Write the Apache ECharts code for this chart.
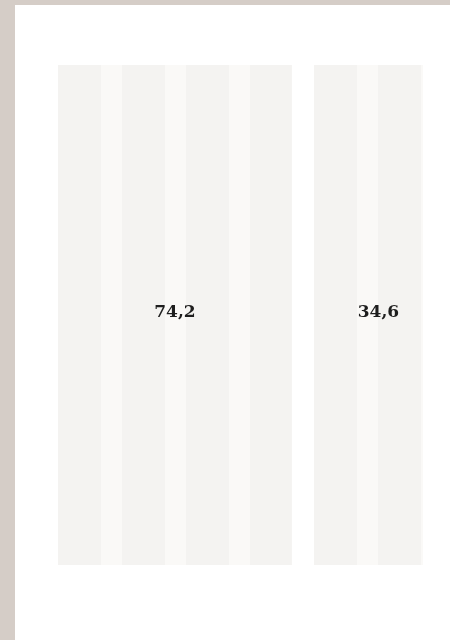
<!DOCTYPE html>
<html>
<head>
<meta charset="utf-8">
<script src="https://cdn.jsdelivr.net/npm/echarts@6/dist/echarts.min.js"></script>
<style>
  html, body { margin: 0; padding: 0; background: #ffffff; }
  #band-left { position: absolute; left: 0; top: 0; width: 15px; height: 640px; background: #d5cdc7; }
  #band-top { position: absolute; left: 0; top: 0; width: 450px; height: 5px; background: #d5cdc7; }
  #chart { position: absolute; left: 0; top: 0; width: 450px; height: 640px; }
</style>
</head>
<body>
<div id="band-left"></div>
<div id="band-top"></div>
<div id="chart"></div>
<script>
// values
const categories = ['total'];
const seriesNames = ['first', 'second'];
const seriesValues = [74.2, 34.6];

// white space between the two blocks, in axis units
const gapUnits = 7;

const baseColor = '#f4f3f1';
const stripeColor = '#faf9f7';

const chart = echarts.init(document.getElementById('chart'), null, { renderer: 'canvas' });

// vertical light stripes, 21px wide every 64px
const stripes = {
    symbol: 'rect',
    symbolSize: 1,
    symbolKeepAspect: false,
    color: stripeColor,
    dashArrayX: [[0, 37, 21, 6]],
    dashArrayY: [10, 0],
    rotation: 0
};

const labelStyle = {
    show: true,
    position: 'inside',
    offset: [0, -2],
    fontFamily: 'DejaVu Serif',
    fontWeight: 'bold',
    fontSize: 17,
    color: '#1e1e1e',
    formatter: (p) => String(p.value).replace('.', ',')
};

const option = {
    backgroundColor: 'transparent',
    animation: false,
    grid: { left: 58, right: 27, top: 65, bottom: 75 },
    xAxis: {
        type: 'value',
        min: 0,
        max: seriesValues[0] + gapUnits + seriesValues[1],
        show: false
    },
    yAxis: {
        type: 'category',
        data: categories,
        show: false
    },
    series: [
        {
            name: seriesNames[0],
            type: 'bar',
            stack: 'all',
            barWidth: '100%',
            data: [seriesValues[0]],
            itemStyle: { color: baseColor, decal: stripes },
            label: labelStyle
        },
        {
            name: 'gap',
            type: 'bar',
            stack: 'all',
            barWidth: '100%',
            silent: true,
            data: [gapUnits],
            itemStyle: { color: 'rgba(0,0,0,0)' }
        },
        {
            name: seriesNames[1],
            type: 'bar',
            stack: 'all',
            barWidth: '100%',
            data: [seriesValues[1]],
            itemStyle: { color: baseColor, decal: stripes },
            label: Object.assign({}, labelStyle, { offset: [10, -2] })
        }
    ]
};

chart.setOption(option);
</script>
</body>
</html>
